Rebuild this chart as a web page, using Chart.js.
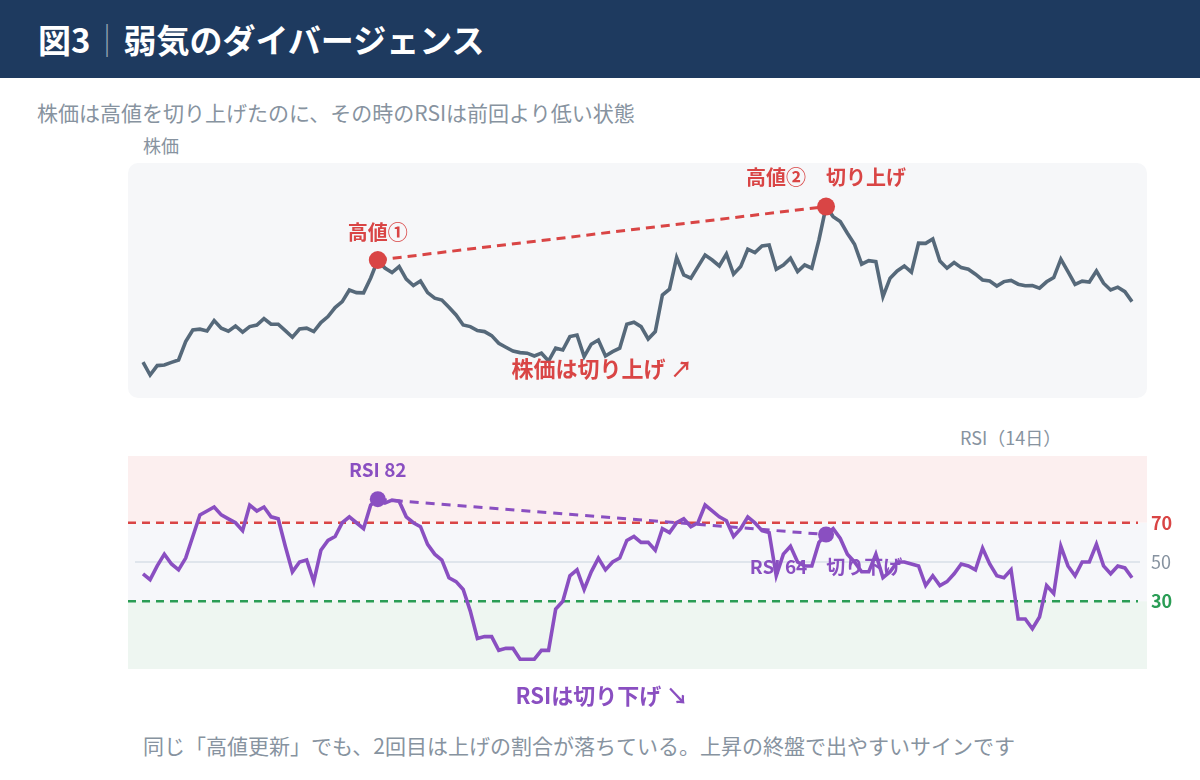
<!DOCTYPE html>
<html lang="ja">
<head>
<meta charset="utf-8">
<script src="https://cdn.jsdelivr.net/npm/chart.js@4.4.1/dist/chart.umd.min.js"></script>
<style>
  html, body { margin: 0; padding: 0; background: #fff; }
  body { width: 1200px; height: 780px; position: relative; overflow: hidden;
         font-family: "Noto Sans CJK JP", "Noto Sans", sans-serif; }
  .header { position: absolute; left: 0; top: 0; width: 1200px; height: 78px; background: #1e3a5f; }
  .header h1 { margin: 0; position: absolute; left: 38px; top: 0; line-height: 78px;
               color: #fff; font-size: 33px; font-weight: 700; letter-spacing: 0; }
  .header .sep { color: rgba(255,255,255,0.55); font-weight: 300; }
  .txt { position: absolute; white-space: nowrap; color: #8793a0; }
  .sub  { left: 37px;  top: 100px; font-size: 21px; line-height: 24px; }
  .lab1 { left: 143px; top: 134px; font-size: 18px; line-height: 22px; }
  .lab2 { left: 960px; top: 426px; font-size: 18px; line-height: 22px; }
  .foot { left: 143px; top: 733px; font-size: 21px; line-height: 24px; }
  .box { position: absolute; left: 0; width: 1200px; }
</style>
</head>
<body>
<div class="header"><h1>図3<span class="sep">｜</span>弱気のダイバージェンス</h1></div>
<div class="txt sub">株価は高値を切り上げたのに、その時のRSIは前回より低い状態</div>
<div class="txt lab1">株価</div>
<div class="txt lab2">RSI（14日）</div>
<div class="box" style="top:150px;height:260px"><canvas id="priceChart"></canvas></div>
<div class="box" style="top:420px;height:300px"><canvas id="rsiChart"></canvas></div>
<div class="txt foot">同じ「高値更新」でも、2回目は上げの割合が落ちている。上昇の終盤で出やすいサインです</div>

<script>
// 日足 140本
const days = Array.from({ length: 140 }, (_, i) => i + 1);

const price = [
  2179, 2115, 2162, 2165, 2178, 2190, 2282, 2340, 2344, 2335,
  2387, 2349, 2334, 2360, 2329, 2357, 2365, 2397, 2369, 2369,
  2337, 2304, 2345, 2349, 2332, 2377, 2407, 2452, 2482, 2540,
  2527, 2526, 2600, 2690, 2650, 2627, 2657, 2594, 2562, 2585,
  2527, 2499, 2490, 2454, 2415, 2365, 2357, 2337, 2332, 2312,
  2274, 2254, 2235, 2227, 2224, 2210, 2224, 2185, 2249, 2240,
  2307, 2315, 2207, 2269, 2290, 2210, 2232, 2249, 2369, 2379,
  2357, 2295, 2332, 2515, 2544, 2702, 2615, 2599, 2657, 2715,
  2690, 2660, 2720, 2619, 2657, 2744, 2727, 2760, 2765, 2644,
  2665, 2699, 2632, 2665, 2649, 2790, 2957, 2907, 2882, 2824,
  2769, 2669, 2687, 2682, 2507, 2599, 2635, 2660, 2629, 2774,
  2773, 2795, 2685, 2649, 2677, 2652, 2644, 2619, 2590, 2585,
  2560, 2582, 2588, 2569, 2561, 2562, 2549, 2581, 2602, 2694,
  2632, 2568, 2584, 2580, 2635, 2574, 2540, 2554, 2532, 2482
];

const rsi = [
  44, 41, 48, 54, 49, 46, 52, 63, 74, 76,
  78, 74, 72, 70, 66, 79, 76, 78, 73, 72,
  58, 45, 50, 51, 40, 56, 61, 63, 70, 73,
  70, 67, 79, 82, 80, 81.5, 81, 73, 70, 68,
  59, 54, 51, 42, 40, 36, 25, 11, 12, 12,
  5, 6, 6, 0.5, 0.5, 0.5, 5, 5, 26, 30,
  43, 46, 36, 45, 52, 46, 50, 52, 61, 63,
  60, 60, 56, 67, 65, 70, 72, 68, 70, 79,
  76, 73, 71, 63, 67, 73, 70, 66, 65, 43,
  54, 58, 50, 48, 48, 60, 64, 67, 62, 54,
  50, 45, 45, 54, 42, 45, 50, 50, 49, 48,
  38, 43, 38, 40, 44, 49, 48, 46, 57, 49,
  43, 42, 46, 21, 21, 16, 22, 38, 34, 58,
  48, 43, 50, 50, 59, 48, 44, 48, 47, 42
];

const peakIdx   = [33, 96];          // 高値① / 高値②

const RED = '#d94545', PURPLE = '#8a4fc1', GREEN = '#2a9d55', SLATE = '#56697a', GREY = '#8793a0';
const JP = '"Noto Sans CJK JP", "Noto Sans", sans-serif';

const onlyPeaks = arr => arr.map((v, i) => peakIdx.includes(i) ? v : null);

const hidden = { display: false };
const baseOpts = {
  responsive: true,
  maintainAspectRatio: false,
  animation: false,
  events: [],
  plugins: { legend: { display: false }, tooltip: { enabled: false } },
};

function text(ctx, s, x, y, font, color, align) {
  ctx.save();
  ctx.font = font;
  ctx.fillStyle = color;
  ctx.textAlign = align || 'center';
  ctx.textBaseline = 'middle';
  ctx.fillText(s, x, y);
  ctx.restore();
}

// --- 株価 ---
const pricePanel = {
  id: 'pricePanel',
  beforeDraw(chart) {
    const { ctx, chartArea: a } = chart;
    ctx.save();
    ctx.fillStyle = '#f6f7f9';
    ctx.beginPath();
    ctx.roundRect(a.left - 15, a.top, a.right - a.left + 30, a.bottom - a.top, 10);
    ctx.fill();
    ctx.restore();
  },
  afterDatasetsDraw(chart) {
    const { ctx } = chart;
    const x = chart.scales.x, y = chart.scales.y;
    const f = 'bold 20px ' + JP;
    text(ctx, '高値①', x.getPixelForValue(peakIdx[0]), y.getPixelForValue(price[peakIdx[0]]) - 28, f, RED);
    text(ctx, '高値②　切り上げ', x.getPixelForValue(peakIdx[1]), y.getPixelForValue(price[peakIdx[1]]) - 29, f, RED);
    text(ctx, '株価は切り上げ ↗', x.getPixelForValue(64.5), y.getPixelForValue(2145), 'bold 22px ' + JP, RED);
  }
};

new Chart(document.getElementById('priceChart'), {
  type: 'line',
  data: {
    labels: days,
    datasets: [
      { data: onlyPeaks(price), showLine: false, pointRadius: 9, pointBackgroundColor: RED, pointBorderWidth: 0 },
      { data: price, borderColor: SLATE, borderWidth: 3.6, pointRadius: 0, tension: 0, borderJoinStyle: 'miter' },
      { data: onlyPeaks(price), spanGaps: true, borderColor: RED, borderWidth: 3, borderDash: [9, 6], pointRadius: 0 },
    ],
  },
  options: {
    ...baseOpts,
    layout: { autoPadding: false, padding: { left: 143, right: 68, top: 13, bottom: 12 } },
    scales: { x: hidden, y: { display: false, min: 2000, max: 3175 } },
  },
  plugins: [pricePanel],
});

// --- RSI ---
const rsiPanel = {
  id: 'rsiPanel',
  beforeDraw(chart) {
    const { ctx, chartArea: a } = chart;
    const y = chart.scales.y;
    const L = a.left - 15, W = a.right - a.left + 30;
    const y70 = y.getPixelForValue(70), y30 = y.getPixelForValue(30), y50 = y.getPixelForValue(50);
    ctx.save();
    ctx.fillStyle = '#fcefef'; ctx.fillRect(L, a.top, W, y70 - a.top);
    ctx.fillStyle = '#f6f7fa'; ctx.fillRect(L, y70, W, y30 - y70);
    ctx.fillStyle = '#eef6f1'; ctx.fillRect(L, y30, W, a.bottom - y30);
    ctx.strokeStyle = '#dfe5ec'; ctx.lineWidth = 2;
    ctx.beginPath(); ctx.moveTo(a.left - 8, y50); ctx.lineTo(a.right + 8, y50); ctx.stroke();
    ctx.setLineDash([8, 6]); ctx.lineWidth = 2.5;
    ctx.strokeStyle = RED;
    ctx.beginPath(); ctx.moveTo(L, y70); ctx.lineTo(a.right + 6, y70); ctx.stroke();
    ctx.strokeStyle = GREEN;
    ctx.beginPath(); ctx.moveTo(L, y30); ctx.lineTo(a.right + 6, y30); ctx.stroke();
    ctx.restore();
    const tx = a.right + 19;
    text(ctx, '70', tx, y70, 'bold 18px ' + JP, RED, 'left');
    text(ctx, '50', tx, y50, '18px ' + JP, GREY, 'left');
    text(ctx, '30', tx, y30, 'bold 18px ' + JP, GREEN, 'left');
  },
  beforeDatasetsDraw(chart) {
    const { ctx } = chart;
    const x = chart.scales.x, y = chart.scales.y;
    text(ctx, 'RSI 64　切り下げ', x.getPixelForValue(peakIdx[1]), y.getPixelForValue(rsi[peakIdx[1]]) + 32, 'bold 19px ' + JP, PURPLE);
  },
  afterDatasetsDraw(chart) {
    const { ctx, chartArea: a } = chart;
    const x = chart.scales.x, y = chart.scales.y;
    text(ctx, 'RSI 82', x.getPixelForValue(peakIdx[0]), y.getPixelForValue(rsi[peakIdx[0]]) - 29, 'bold 19px ' + JP, PURPLE);
    text(ctx, 'RSIは切り下げ ↘', x.getPixelForValue(64.5), a.bottom + 27, 'bold 22px ' + JP, PURPLE);
  }
};

new Chart(document.getElementById('rsiChart'), {
  type: 'line',
  data: {
    labels: days,
    datasets: [
      { data: onlyPeaks(rsi), showLine: false, pointRadius: 8, pointBackgroundColor: PURPLE, pointBorderWidth: 0 },
      { data: rsi, borderColor: PURPLE, borderWidth: 3.6, pointRadius: 0, tension: 0, borderJoinStyle: 'miter' },
      { data: onlyPeaks(rsi), spanGaps: true, borderColor: PURPLE, borderWidth: 3, borderDash: [9, 7], pointRadius: 0 },
    ],
  },
  options: {
    ...baseOpts,
    layout: { autoPadding: false, padding: { left: 143, right: 68, top: 36, bottom: 51 } },
    scales: { x: hidden, y: { display: false, min: -4.5, max: 104 } },
  },
  plugins: [rsiPanel],
});
</script>
</body>
</html>
